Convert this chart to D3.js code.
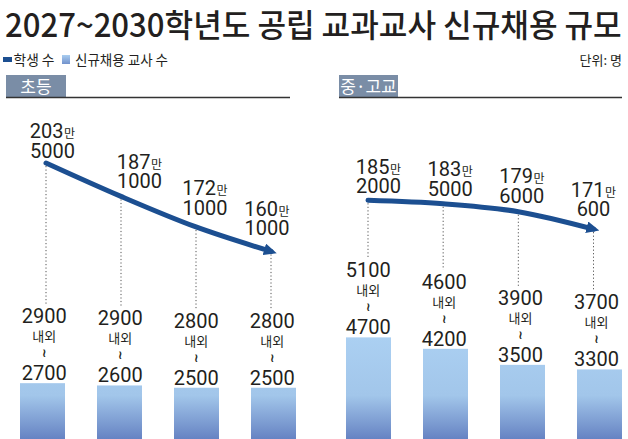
<!DOCTYPE html>
<html><head><meta charset="utf-8">
<script src="https://cdn.jsdelivr.net/npm/d3@7"></script>
<style>
html,body{margin:0;padding:0;background:#fff;}
svg{display:block;}
</style></head>
<body>
<svg id="chart" width="628" height="439"></svg>
<script>
// ---------- data ----------
const years = ['2027', '2028', '2029', '2030'];
const elemStudents = [2035000, 1871000, 1721000, 1601000];
const elemHireMax = [2900, 2900, 2800, 2800];
const elemHireMin = [2700, 2600, 2500, 2500];
const secStudents = [1852000, 1835000, 1796000, 1710600];
const secHireMax = [5100, 4600, 3900, 3700];
const secHireMin = [4700, 4200, 3500, 3300];
const panelTitles = ['초등', '중·고교'];
const legendLabels = ['학생 수', '신규채용 교사 수'];
const titleText = '2027~2030학년도 공립 교과교사 신규채용 규모';
const unitText = '단위: 명';

// ---------- layout ----------
const LINE_COLOR = '#1c4f91';
const TEXT = '#231f20';
const KR = "'Noto Sans CJK KR','Noto Sans',sans-serif";
const NUM = "Roboto,'Liberation Sans',sans-serif";
// student label nudges [dx, gap above point]
const nudgeElem = [[6.5, 5], [18.5, 8], [9, 12], [-4, 16]];
const nudgeSec = [[10.5, 7], [7, 8], [3.5, 9], [0, 13]];

const svg = d3.select('#chart');
const defs = svg.append('defs');

const grad = defs.append('linearGradient').attr('id', 'barGrad')
  .attr('gradientUnits', 'userSpaceOnUse').attr('x1', 0).attr('x2', 0).attr('y1', 330).attr('y2', 439);
grad.append('stop').attr('offset', 0).attr('stop-color', '#acd1f3');
grad.append('stop').attr('offset', 0.6).attr('stop-color', '#a2c6ea');
grad.append('stop').attr('offset', 1).attr('stop-color', '#6683c3');

const lg = defs.append('linearGradient').attr('id', 'legGrad').attr('x1', 0).attr('x2', 0).attr('y1', 0).attr('y2', 1);
lg.append('stop').attr('offset', 0).attr('stop-color', '#a9cdf0');
lg.append('stop').attr('offset', 1).attr('stop-color', '#7292cc');

defs.append('marker').attr('id', 'arrow')
  .attr('viewBox', '0 -6 13 12').attr('refX', 7).attr('refY', 0)
  .attr('markerWidth', 13).attr('markerHeight', 12)
  .attr('markerUnits', 'userSpaceOnUse').attr('orient', 'auto')
  .append('path').attr('d', 'M0,-6L13,0L0,6Z').attr('fill', LINE_COLOR);

// ---------- title / legend ----------
const title = svg.append('text')
  .attr('font-family', KR).attr('font-size', 32).attr('font-weight', 500)
  .attr('fill', TEXT).text(titleText);
const natW = title.node().getComputedTextLength();
title.attr('transform', `translate(5,37) scale(${617 / natW},1)`);

svg.append('rect').attr('x', 3).attr('y', 57).attr('width', 9).attr('height', 5).attr('fill', LINE_COLOR);
svg.append('text').attr('x', 13.5).attr('y', 64.5).attr('font-family', KR).attr('font-size', 14)
  .attr('fill', TEXT).attr('textLength', 41).attr('lengthAdjust', 'spacingAndGlyphs').text(legendLabels[0]);
svg.append('rect').attr('x', 62).attr('y', 55).attr('width', 8).attr('height', 9).attr('fill', 'url(#legGrad)');
svg.append('text').attr('x', 75).attr('y', 64.5).attr('font-family', KR).attr('font-size', 14)
  .attr('fill', TEXT).attr('textLength', 93).attr('lengthAdjust', 'spacingAndGlyphs').text(legendLabels[1]);
svg.append('text').attr('x', 622).attr('y', 65).attr('text-anchor', 'end').attr('font-family', KR)
  .attr('font-size', 13).attr('fill', TEXT).text(unitText);

// ---------- scales ----------
const yStud = d3.scaleLinear().domain([1500000, 2100000]).range([272, 149.75]);
const yHire = d3.scaleLinear().domain([0, 5000]).range([445, 330.5]);

const panels = [
  { title: panelTitles[0], box: [6, 66], rule: [6, 290], pts: [46, 271], bars: [20, 296],
    students: elemStudents, max: elemHireMax, min: elemHireMin, nudge: nudgeElem },
  { title: panelTitles[1], box: [339, 398], rule: [339, 622], pts: [368, 593.5], bars: [346, 622],
    students: secStudents, max: secHireMax, min: secHireMin, nudge: nudgeSec }
];

panels.forEach(p => {
  const g = svg.append('g');
  // header
  g.append('rect').attr('x', p.box[0]).attr('y', 75).attr('width', p.box[1] - p.box[0]).attr('height', 22)
    .attr('fill', '#7a8da6');
  g.append('text').attr('x', (p.box[0] + p.box[1]) / 2).attr('y', 92.5).attr('text-anchor', 'middle')
    .attr('font-family', KR).attr('font-size', 17).attr('fill', '#fff').text(p.title);
  g.append('line').attr('x1', p.rule[0]).attr('x2', p.rule[1]).attr('y1', 97.5).attr('y2', 97.5)
    .attr('stroke', '#333').attr('stroke-width', 1.5);

  const xp = d3.scalePoint().domain(years).range(p.pts);
  const xb = d3.scaleBand().domain(years).range(p.bars).paddingInner(32 / 77).paddingOuter(0);

  // bars
  g.selectAll('rect.bar').data(years).join('rect').attr('class', 'bar')
    .attr('x', d => xb(d)).attr('width', xb.bandwidth())
    .attr('y', (d, i) => yHire(p.min[i])).attr('height', (d, i) => yHire(0) - yHire(p.min[i]))
    .attr('fill', 'url(#barGrad)');

  // dotted guides
  g.selectAll('line.guide').data(years).join('line').attr('class', 'guide')
    .attr('x1', d => xp(d)).attr('x2', d => xp(d))
    .attr('y1', (d, i) => yStud(p.students[i]) + 3)
    .attr('y2', (d, i) => yHire(p.min[i]) - 79)
    .attr('stroke', '#555').attr('stroke-width', 1).attr('stroke-dasharray', '1.2,2.3');

  // student line
  const line = d3.line().x((d, i) => xp(years[i])).y(d => yStud(d)).curve(d3.curveMonotoneX);
  g.append('path').attr('d', line(p.students)).attr('fill', 'none')
    .attr('stroke', LINE_COLOR).attr('stroke-width', 5).attr('stroke-linecap', 'round')
    .attr('marker-end', 'url(#arrow)');

  // student labels (one text element, two lines)
  years.forEach((yr, i) => {
    const v = p.students[i];
    const cx = xp(yr) + p.nudge[i][0];
    const b2 = yStud(v) - p.nudge[i][1];
    const t = g.append('text').attr('text-anchor', 'middle').attr('fill', TEXT);
    t.append('tspan').attr('x', cx).attr('y', b2 - 19.5)
      .attr('font-family', NUM).attr('font-size', 20).text(Math.floor(v / 10000));
    t.append('tspan').attr('font-family', KR).attr('font-size', 12).attr('dx', 0.5).text('만');
    t.append('tspan').attr('x', cx).attr('y', b2)
      .attr('font-family', NUM).attr('font-size', 20).text(v % 10000);
  });

  // teacher labels (one text element, stacked)
  years.forEach((yr, i) => {
    const T = yHire(p.min[i]);
    const cx = (xp(yr) + xb(yr) + xb.bandwidth() / 2) / 2;
    const t = g.append('text').attr('text-anchor', 'middle').attr('fill', TEXT);
    t.append('tspan').attr('x', cx).attr('y', T - 60)
      .attr('font-family', NUM).attr('font-size', 20).text(p.max[i]);
    t.append('tspan').attr('x', cx).attr('y', T - 42)
      .attr('font-family', KR).attr('font-size', 13).text('내외');
    t.append('tspan').attr('x', cx).attr('y', T - 26)
      .attr('font-family', "'DejaVu Sans',sans-serif").attr('font-size', 12).attr('font-weight', 700).text('≀');
    t.append('tspan').attr('x', cx).attr('y', T - 3)
      .attr('font-family', NUM).attr('font-size', 20).text(p.min[i]);
  });
});
</script>
</body></html>
